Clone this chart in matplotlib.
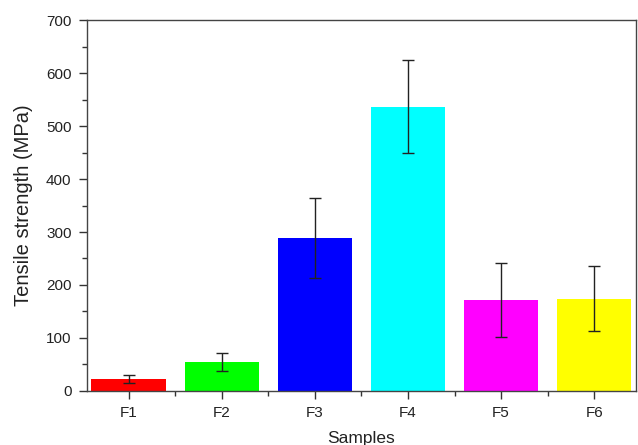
import matplotlib
matplotlib.use("Agg")
import matplotlib.pyplot as plt
from matplotlib.ticker import MultipleLocator, FixedLocator

plt.rcParams['font.family'] = ['Liberation Sans', 'DejaVu Sans']

samples = ['F1', 'F2', 'F3', 'F4', 'F5', 'F6']
strength = [22, 55, 289, 537, 171, 174]
strength_err = [8, 17, 75, 88, 70, 61]
bar_colors = ['#FF0000', '#00FF00', '#0000FF', '#00FFFF', '#FF00FF', '#FFFF00']

fig = plt.figure(figsize=(6.38, 4.45), dpi=100)
ax = fig.add_axes([0.136, 0.122, 0.861, 0.832])

x = list(range(1, len(samples) + 1))
ax.bar(x, strength, width=0.8, color=bar_colors, edgecolor='none',
       yerr=strength_err, capsize=4,
       error_kw=dict(ecolor='#222222', elinewidth=1.0, capthick=1.0))

ax.set_xlim(0.55, 6.45)
ax.set_ylim(0, 700)
ax.set_xticks(x)
ax.set_xticklabels(samples)
ax.xaxis.set_minor_locator(FixedLocator([1.5, 2.5, 3.5, 4.5, 5.5]))
ax.yaxis.set_major_locator(MultipleLocator(100))
ax.yaxis.set_minor_locator(MultipleLocator(50))

ax.tick_params(axis='both', which='major', direction='out', length=6,
               width=1, labelsize=11, colors='#333333', labelcolor='#222222')
ax.tick_params(axis='both', which='minor', direction='out', length=3.5,
               width=1, colors='#333333')
ax.tick_params(axis='x', pad=5)
ax.tick_params(axis='y', pad=5)

for s in ax.spines.values():
    s.set_color('#444444')
    s.set_linewidth(1.0)

ax.set_xlabel('Samples', fontsize=12.5, color='#222222', labelpad=8)
ax.set_ylabel('Tensile strength (MPa)', fontsize=14.5, color='#222222', labelpad=9)

fig.savefig('out.png', dpi=100)
